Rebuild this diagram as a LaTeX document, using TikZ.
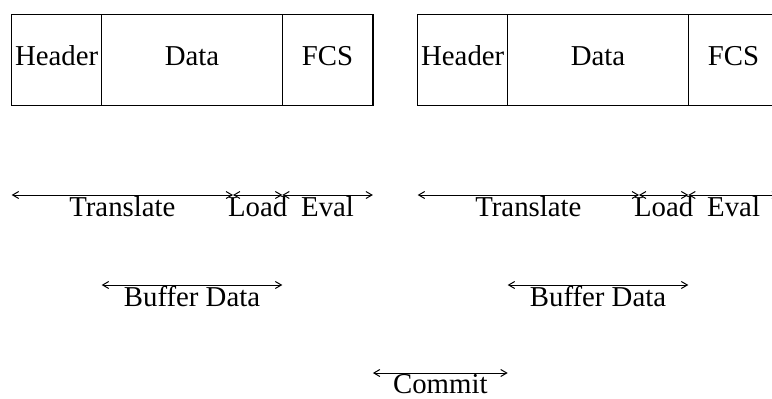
\documentclass[tikz,border=0pt]{standalone}
\usepackage{fontspec}
\setmainfont{Liberation Serif}
\usetikzlibrary{arrows.meta,positioning}

\tikzset{
    field/.style={draw, line width=0.6pt, minimum height=45.3pt, inner sep=0pt, outer sep=0pt,
        text depth=4pt, font=\fontsize{14.4}{17}\selectfont},
    span/.style={{Straight Barb[length=3pt,width=3.5pt]}-{Straight Barb[length=3pt,width=3.5pt]}, line width=0.5pt},
    spanlabel/.style={anchor=north, inner sep=0.5pt, font=\fontsize{14.4}{17}\selectfont}
}

\begin{document}
\begin{tikzpicture}[x=0.5pt,y=-0.5pt]
    \useasboundingbox (0,0) rectangle (772,398);
    \clip (0,0) rectangle (772,398);
    \pgfmathsetmacro{\yvala}{195}
    \pgfmathsetmacro{\yvalb}{285}
    \pgfmathsetmacro{\yvalc}{373}

    \foreach \x/\f in {0/a,406/b} {
            \begin{scope}[xshift=\x*0.5pt]
                \node[field, minimum width=45pt, anchor=north west] (hdr\f) at (11.7,14.7) {Header};
                \node[field, minimum width=90.3pt, right=0pt of hdr\f] (dat\f) {Data};
                \node[field, minimum width=45.3pt, right=0pt of dat\f] (fcs\f) {FCS};
                \coordinate (ld\f) at (233,\yvala);
            \end{scope}
            % pipeline of one frame
            \draw[span] (hdr\f.west |- ld\f) -- (ld\f) node[spanlabel, midway] {Translate};
            \draw[span] (ld\f) -- (dat\f.east |- ld\f) node[spanlabel, midway] {Load};
            \draw[span] (dat\f.east |- ld\f) -- (fcs\f.east |- ld\f) node[spanlabel, midway] {Eval};
            \draw[span] (hdr\f.east |- 0,\yvalb) -- (dat\f.east |- 0,\yvalb) node[spanlabel, midway] {Buffer Data};
        }
    \draw[span] (fcsa.east |- 0,\yvalc) -- (datb.west |- 0,\yvalc) node[spanlabel, midway] {Commit};
\end{tikzpicture}
\end{document}
